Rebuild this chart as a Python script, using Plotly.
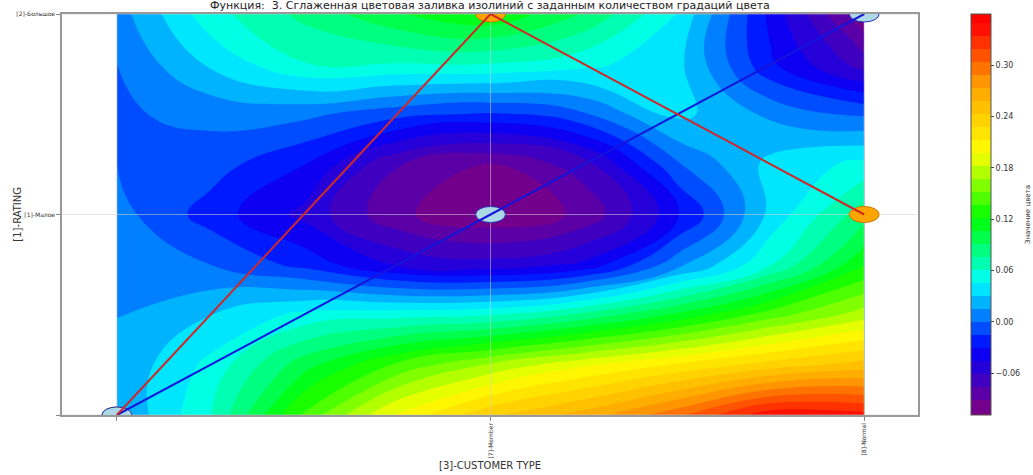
import plotly.graph_objects as go

# ---- data ----
grid_x = [0.0, 0.25, 0.5, 0.75, 1.0, 1.25, 1.5, 1.75, 2.0]
grid_y = [0.0, 0.25, 0.5, 0.75, 1.0, 1.25, 1.5, 1.75, 2.0]
grid_z = [
    [0.015, 0.060, 0.140, 0.200, 0.240, 0.265, 0.300, 0.345, 0.340],
    [0.018, 0.050, 0.100, 0.140, 0.170, 0.195, 0.215, 0.235, 0.250],
    [0.015, 0.030, 0.050, 0.055, 0.060, 0.080, 0.110, 0.145, 0.175],
    [0.015, 0.000, -0.020, -0.048, -0.055, -0.042, 0.010, 0.060, 0.120],
    [0.006, -0.022, -0.050, -0.088, -0.104, -0.088, -0.035, 0.035, 0.085],
    [0.000, -0.008, -0.030, -0.075, -0.092, -0.068, -0.002, 0.035, 0.050],
    [-0.002, 0.004, 0.004, -0.010, -0.018, -0.002, 0.035, 0.012, -0.002],
    [0.000, 0.033, 0.060, 0.060, 0.060, 0.050, 0.035, -0.028, -0.068],
    [0.008, 0.055, 0.080, 0.105, 0.120, 0.090, 0.045, -0.035, -0.104],
]

x_tick_vals = [0, 1, 2]
x_tick_text = ["", "[7]-Member", "[8]-Normal"]
y_tick_vals = [0, 1, 2]
y_tick_text = ["", "[1]-Малое", "[2]-Большое"]

blue_x = [0, 1, 2]
blue_y = [0, 1, 2]
red_x = [0, 1, 2]
red_y = [0, 2, 1]

cbar_ticks = [-0.06, 0.0, 0.06, 0.12, 0.18, 0.24, 0.30]

title_text = "Функция:  3. Сглаженная цветовая заливка изолиний с заданным количеством градаций цвета"
cbar_title = "Значение цвета"
x_title = "[3]-CUSTOMER TYPE"
y_title = "[1]-RATING"

# ---- styles ----
colorscale = [
    [0.0, "#800080"],
    [1 / 6, "#0000ff"],
    [2 / 6, "#00ffff"],
    [3 / 6, "#00ff00"],
    [4 / 6, "#ffff00"],
    [5 / 6, "#ffa500"],
    [1.0, "#ff0000"],
]
marker_r = 0.04
x_range = [-0.147, 2.144]
y_range = [0, 2]

fig = go.Figure()
fig.add_trace(go.Contour(
    x=grid_x, y=grid_y, z=grid_z,
    colorscale=colorscale,
    zmin=-0.109, zmax=0.36, zauto=False,
    autocontour=False,
    contours=dict(start=-0.1064, end=0.36, size=0.0152, coloring="fill", showlines=False),
    line=dict(width=0, smoothing=1.3),
    colorbar=dict(
        x=1.0618, xanchor="left", xpad=0, y=0.5, yanchor="middle", len=1, ypad=0,
        thickness=20, outlinewidth=1, outlinecolor="#555",
        tickvals=cbar_ticks, tickformat=".2f", ticks="outside", ticklen=3,
        tickfont=dict(size=8, color="#333", family="DejaVu Sans"),
    ),
    hoverinfo="skip",
))

shapes = []
# grid lines above the fill
for xv in x_tick_vals:
    shapes.append(dict(type="line", xref="x", yref="paper", x0=xv, x1=xv, y0=0, y1=1,
                       line=dict(color="rgba(210,210,210,0.55)", width=1), layer="above"))
for yv in y_tick_vals:
    shapes.append(dict(type="line", xref="paper", yref="y", x0=0, x1=1, y0=yv, y1=yv,
                       line=dict(color="rgba(210,210,210,0.55)", width=1), layer="above"))
# markers (red series first, blue on top)
for xv, yv in zip(red_x, red_y):
    shapes.append(dict(type="circle", xref="x", yref="y",
                       x0=xv - marker_r, x1=xv + marker_r, y0=yv - marker_r, y1=yv + marker_r,
                       fillcolor="#ffa500", line=dict(color="#d07800", width=1), layer="above"))
for xv, yv in zip(blue_x, blue_y):
    shapes.append(dict(type="circle", xref="x", yref="y",
                       x0=xv - marker_r, x1=xv + marker_r, y0=yv - marker_r, y1=yv + marker_r,
                       fillcolor="#add8e6", line=dict(color="#2030b0", width=1), layer="above"))


def path_of(xs, ys):
    return "M " + " L ".join(f"{a},{b}" for a, b in zip(xs, ys))


shapes.append(dict(type="path", xref="x", yref="y", path=path_of(blue_x, blue_y),
                   line=dict(color="#1414dc", width=2), layer="above"))
shapes.append(dict(type="path", xref="x", yref="y", path=path_of(red_x, red_y),
                   line=dict(color="#d02828", width=2), layer="above"))

fig.update_layout(
    width=1033, height=475,
    margin=dict(l=62, r=113, t=14, b=60),
    paper_bgcolor="white", plot_bgcolor="white",
    shapes=shapes,
    showlegend=False,
    font=dict(family="DejaVu Sans", color="#333"),
    annotations=[
        dict(text=title_text, xref="paper", yref="paper", x=0.5, y=1.02,
             xanchor="center", yanchor="middle", showarrow=False,
             font=dict(size=11, color="#222")),
        dict(text=cbar_title, xref="paper", yref="paper", x=1.128, xanchor="center",
             y=0.5, yanchor="middle", textangle=-90, showarrow=False,
             font=dict(size=7, color="#333")),
        dict(text=y_title, xref="paper", yref="paper", x=-0.0524, xanchor="center",
             y=0.5, yanchor="middle", textangle=-90, showarrow=False,
             font=dict(size=10, color="#333")),
        dict(text=x_title, xref="paper", yref="paper", x=0.5, xanchor="center",
             y=-0.1262, yanchor="middle", showarrow=False,
             font=dict(size=10, color="#333")),
    ],
)
fig.update_xaxes(
    range=x_range, tickvals=x_tick_vals, ticktext=x_tick_text, tickangle=-90,
    ticks="outside", ticklen=4, tickcolor="#888", tickfont=dict(size=6, color="#333"),
    showgrid=False, zeroline=False, showline=True, linecolor="#999", linewidth=1.5, mirror=True,
    automargin=False,
)
fig.update_yaxes(
    range=y_range, tickvals=y_tick_vals, ticktext=y_tick_text,
    ticks="outside", ticklen=4, tickcolor="#888", tickfont=dict(size=6, color="#333"),
    showgrid=False, zeroline=False, showline=True, linecolor="#999", linewidth=1.5, mirror=True,
    automargin=False,
)

fig.write_html("out.html")
